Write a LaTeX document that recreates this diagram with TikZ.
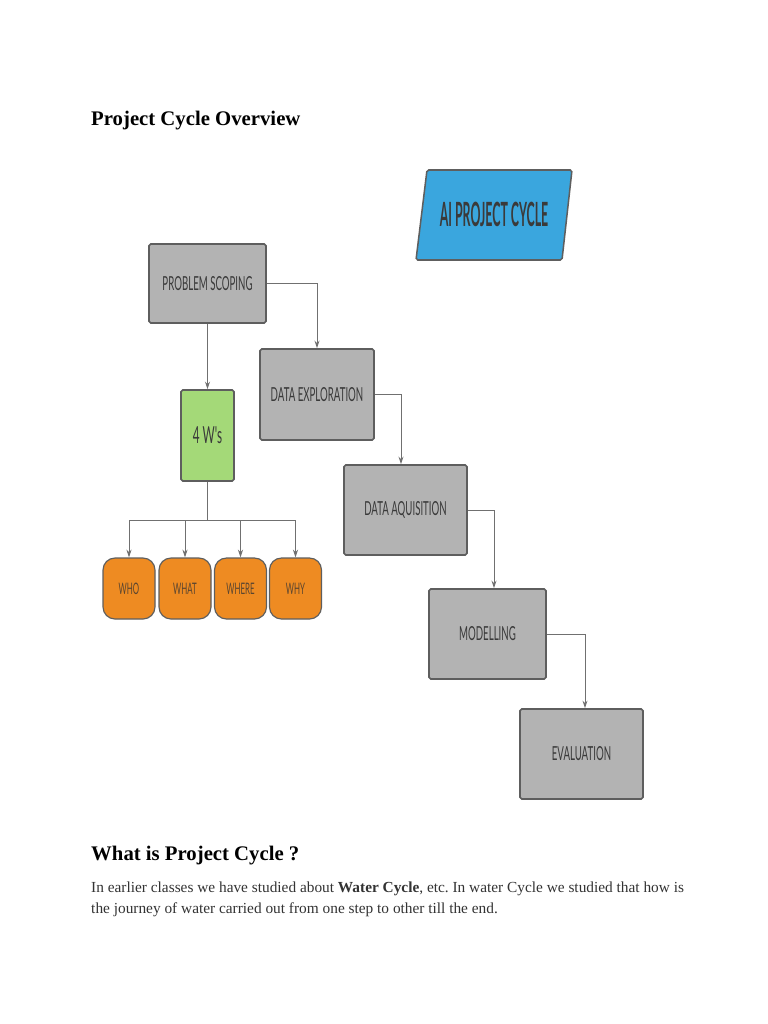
\documentclass[tikz,border=0pt]{standalone}
\usepackage{fontspec}
\setmainfont{Liberation Serif}
\newfontfamily\boxfont[FakeStretch=0.5]{Lato}
\newfontfamily\bannerfont[FakeStretch=0.37]{Lato}
\usetikzlibrary{arrows.meta,positioning,calc}
\definecolor{stepgray}{HTML}{B3B3B3}
\definecolor{boxline}{HTML}{5E5E5E}
\definecolor{wireline}{HTML}{707070}
\definecolor{bannerblue}{HTML}{3AA6DE}
\definecolor{wgreen}{HTML}{A4D978}
\definecolor{qorange}{HTML}{EE8B22}
\definecolor{textdark}{HTML}{3A3A3A}
\definecolor{qtext}{HTML}{5A4530}
\newcommand\pxu{0.03cm}
\frenchspacing

\begin{document}
\begin{tikzpicture}[x=0.03cm, y=-0.03cm,
  stepbox/.style={draw=boxline, fill=stepgray, line width=1.3pt, rounded corners=1.5pt,
    inner sep=0pt, text=textdark, font=\boxfont\fontsize{16.5}{17}\selectfont},
  wbox/.style={stepbox, fill=wgreen, font=\boxfont\fontsize{20}{20}\selectfont},
  qbox/.style={draw=boxline, fill=qorange, line width=1pt, rounded corners=12*\pxu,
    inner sep=0pt, minimum width=52*\pxu, minimum height=61*\pxu, text=qtext,
    font=\boxfont\fontsize{13.5}{13.5}\selectfont},
  wire/.style={draw=wireline, line width=0.8pt, -{Stealth[length=2.3mm, width=1.5mm]}},
  heading/.style={anchor=base west, inner sep=0pt, font=\bfseries\fontsize{17.7}{19}\selectfont},
  bodytext/.style={anchor=base west, inner sep=0pt, text=black!80, font=\fontsize{13.1}{18}\selectfont}
]
  \useasboundingbox[fill=white] (0,0) rectangle (768,1024);

  \node[heading] (overview) at (91,125) {Project Cycle Overview};

  % banner
  \draw[draw=boxline, fill=bannerblue, line width=1.3pt, rounded corners=1.5pt]
    (427,170) -- (572,170) -- (562,260) -- (416,260) -- cycle;
  \node[text=textdark, font=\bannerfont\bfseries\fontsize{28.5}{28}\selectfont] (banner) at (494,214) {AI PROJECT CYCLE};

  % cycle steps
  \node[stepbox, minimum width=117*\pxu, minimum height=79*\pxu] (scope) at (207.5,283.5) {PROBLEM SCOPING};
  \node[stepbox, minimum width=114*\pxu, minimum height=91*\pxu] (explore) at (317,394.5) {DATA EXPLORATION};
  \node[stepbox, minimum width=123*\pxu, minimum height=90*\pxu] (acquire) at (405.5,510) {DATA AQUISITION};
  \node[stepbox, minimum width=117*\pxu, minimum height=90*\pxu] (model) at (487.5,634) {MODELLING};
  \node[stepbox, minimum width=123*\pxu, minimum height=90*\pxu] (evaluate) at (581.5,754) {EVALUATION};

  \node[wbox, minimum width=53*\pxu, minimum height=91*\pxu] (fourw) at (207.5,435.5) {4 W's};

  \node[qbox] (who) at (129,588.5) {WHO};
  \node[qbox] (what) at (185,588.5) {WHAT};
  \node[qbox] (where) at (240.5,588.5) {WHERE};
  \node[qbox] (why) at (295.5,588.5) {WHY};

  \draw[wire] (scope.east) -| (explore.north);
  \draw[wire] (explore.east) -| ([xshift=-4.5*\pxu]acquire.north);
  \draw[wire] (acquire.east) -| ([xshift=6.5*\pxu]model.north);
  \draw[wire] (model.east) -| ([xshift=3.5*\pxu]evaluate.north);
  \draw[wire] (scope.south) -- (fourw.north);

  \coordinate (bus) at ($(fourw.south)+(0,39)$);
  \draw[draw=wireline, line width=0.8pt] (fourw.south) -- (bus);
  \foreach \q in {who,what,where,why}
    \draw[wire] (bus) -| (\q.north);

  \node[heading] (question) at (91,860) {What is Project Cycle ?};
  \node[bodytext] (line1) at (91,892) {In earlier classes we have studied about \textbf{Water Cycle}, etc. In water Cycle we studied that how is};
  \node[bodytext] (line2) at (91,913) {the journey of water carried out from one step to other till the end.};
\end{tikzpicture}
\end{document}
